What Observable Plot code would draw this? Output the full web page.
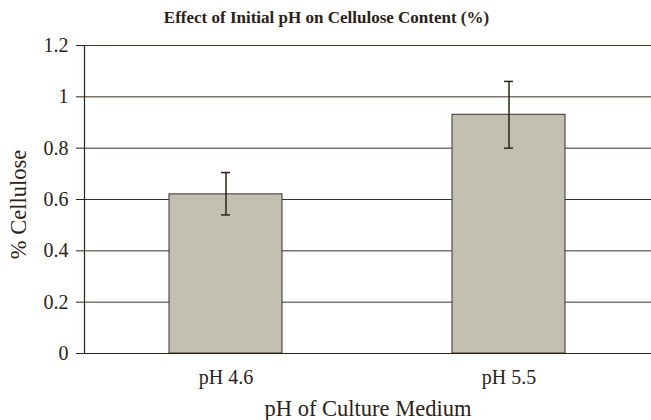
<!DOCTYPE html>
<html>
<head>
<meta charset="utf-8">
<script src="https://cdn.jsdelivr.net/npm/d3@7"></script>
<script src="https://cdn.jsdelivr.net/npm/@observablehq/plot@0.6"></script>
<style>
  html, body { margin: 0; padding: 0; background: #fff; }
  #title { width: 651px; height: 28px; line-height: 22px; padding-top: 7px; box-sizing: border-box; text-align: center; padding-left: 2px;
    font-family: "Liberation Serif", serif; font-weight: bold; font-size: 17px; color: #2b2218; }
  svg text, svg { font-family: "Liberation Serif", serif !important; }
</style>
</head>
<body>
<div id="title">Effect of Initial pH on Cellulose Content (%)</div>
<div id="chart"></div>
<script>
const categories = ["pH 4.6", "pH 5.5"];
const values = [0.62, 0.93];
const errLow = [0.54, 0.80];
const errHigh = [0.705, 1.06];
const yTicks = [0, 0.2, 0.4, 0.6, 0.8, 1, 1.2];

const data = categories.map((c, i) => ({cat: c, v: values[i], lo: errLow[i], hi: errHigh[i]}));
const ink = "#2b2218";

const chart = Plot.plot({
  width: 651,
  height: 392,
  marginTop: 17,
  marginBottom: 67,
  marginLeft: 84,
  marginRight: 0,
  style: {fontFamily: "'Liberation Serif', serif", fontSize: "20px", color: ink, background: "#fff"},
  x: {domain: categories, paddingInner: 0.6, paddingOuter: 0.3, label: null},
  y: {domain: [0, 1.2], label: null},
  marks: [
    Plot.gridY(yTicks, {stroke: "#3a3126", strokeOpacity: 1, strokeWidth: 1}),
    Plot.barY(data, {x: "cat", y: "v", fill: "#c2c0b2", stroke: "#3a3025", strokeWidth: 1}),
    Plot.ruleX(data, {x: "cat", y1: "lo", y2: "hi", stroke: ink, strokeWidth: 1.5}),
    Plot.tickY(data, {x: "cat", y: "lo", stroke: ink, strokeWidth: 1.5, insetLeft: 52, insetRight: 52}),
    Plot.tickY(data, {x: "cat", y: "hi", stroke: ink, strokeWidth: 1.5, insetLeft: 52, insetRight: 52}),
    Plot.axisY(yTicks, {tickSize: 8, tickPadding: 8, tickFormat: d3.format("~g"), stroke: ink, fill: ink, fontSize: 20, label: null}),
    Plot.axisX({tickSize: 0, tickPadding: 16, fill: ink, fontSize: 20, label: null}),
    Plot.text(["pH of Culture Medium"], {frameAnchor: "bottom", dy: 62, fill: ink, fontSize: 22.5}),
    Plot.text(["% Cellulose"], {frameAnchor: "left", textAnchor: "middle", dx: -66, dy: 5, rotate: -90, fill: ink, fontSize: 22.5}),
    Plot.ruleY([0], {stroke: ink, strokeWidth: 1.2}),
    Plot.frame({anchor: "left", stroke: ink, strokeWidth: 1.2})
  ]
});
document.getElementById("chart").appendChild(chart);
</script>
</body>
</html>
